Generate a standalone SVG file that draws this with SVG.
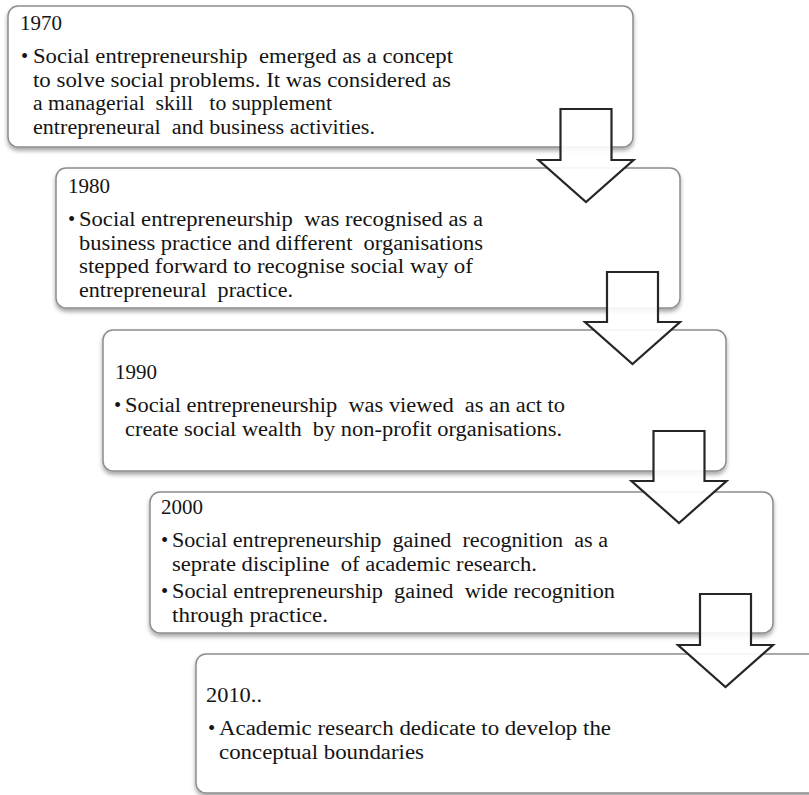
<svg xmlns="http://www.w3.org/2000/svg" width="809" height="795" viewBox="0 0 809 795">
<defs>
<filter id="sh" x="-5%" y="-10%" width="110%" height="130%">
<feDropShadow dx="0" dy="3" stdDeviation="2" flood-color="#000" flood-opacity="0.35"/>
</filter>
</defs>
<style>
.box{fill:#fff;stroke:#8c8c8c;stroke-width:1.5;filter:url(#sh)}
.t{font-family:"Liberation Serif","Times New Roman",serif;font-size:20.5px;fill:#141414;white-space:pre}
.arr{fill:#fff;fill-opacity:0.9;stroke:#262626;stroke-width:2.2;stroke-linejoin:miter}
</style>
<rect width="809" height="795" fill="#fff"/>
<g id="node-1970">
<rect class="box" x="8" y="6" width="625" height="141" rx="10"/>
<text class="t" x="20" y="30" textLength="42" lengthAdjust="spacingAndGlyphs">1970</text>
<text class="t" x="21" y="63">•</text>
<text class="t" x="33" y="63" textLength="420" lengthAdjust="spacingAndGlyphs">Social entrepreneurship  emerged as a concept</text>
<text class="t" x="33" y="86.5" textLength="418" lengthAdjust="spacingAndGlyphs">to solve social problems. It was considered as</text>
<text class="t" x="33" y="110" textLength="299" lengthAdjust="spacingAndGlyphs">a managerial  skill   to supplement</text>
<text class="t" x="33" y="133.5" textLength="342" lengthAdjust="spacingAndGlyphs">entrepreneural  and business activities.</text>
</g>
<g id="node-1980">
<rect class="box" x="56" y="168" width="624" height="140" rx="10"/>
<text class="t" x="68" y="193" textLength="42" lengthAdjust="spacingAndGlyphs">1980</text>
<text class="t" x="68" y="226">•</text>
<text class="t" x="79" y="226" textLength="404" lengthAdjust="spacingAndGlyphs">Social entrepreneurship  was recognised as a</text>
<text class="t" x="79" y="249.5" textLength="404" lengthAdjust="spacingAndGlyphs">business practice and different  organisations</text>
<text class="t" x="79" y="273" textLength="394" lengthAdjust="spacingAndGlyphs">stepped forward to recognise social way of</text>
<text class="t" x="79" y="296.5" textLength="214" lengthAdjust="spacingAndGlyphs">entrepreneural  practice.</text>
</g>
<g id="node-1990">
<rect class="box" x="103" y="330" width="623" height="141" rx="10"/>
<text class="t" x="115" y="379" textLength="42" lengthAdjust="spacingAndGlyphs">1990</text>
<text class="t" x="114" y="412">•</text>
<text class="t" x="125" y="412" textLength="440" lengthAdjust="spacingAndGlyphs">Social entrepreneurship  was viewed  as an act to</text>
<text class="t" x="125" y="435.5" textLength="437" lengthAdjust="spacingAndGlyphs">create social wealth  by non-profit organisations.</text>
</g>
<g id="node-2000">
<rect class="box" x="150" y="492" width="623" height="141" rx="10"/>
<text class="t" x="161" y="514" textLength="42" lengthAdjust="spacingAndGlyphs">2000</text>
<text class="t" x="161" y="547">•</text>
<text class="t" x="172" y="547" textLength="436" lengthAdjust="spacingAndGlyphs">Social entrepreneurship  gained  recognition  as a</text>
<text class="t" x="172" y="570.5" textLength="365" lengthAdjust="spacingAndGlyphs">seprate discipline  of academic research.</text>
<text class="t" x="161" y="598">•</text>
<text class="t" x="172" y="598" textLength="443" lengthAdjust="spacingAndGlyphs">Social entrepreneurship  gained  wide recognition</text>
<text class="t" x="172" y="621.5" textLength="156" lengthAdjust="spacingAndGlyphs">through practice.</text>
</g>
<g id="node-2010">
<rect class="box" x="196" y="654" width="640" height="139" rx="10"/>
<text class="t" x="206" y="702" textLength="56" lengthAdjust="spacingAndGlyphs">2010..</text>
<text class="t" x="208" y="735">•</text>
<text class="t" x="219" y="735" textLength="392" lengthAdjust="spacingAndGlyphs">Academic research dedicate to develop the</text>
<text class="t" x="219" y="758.5" textLength="205" lengthAdjust="spacingAndGlyphs">conceptual boundaries</text>
</g>
<g id="connectors">
<polygon class="arr" points="560.5,109 611.5,109 611.5,160 633.5,160 586,202 538.5,160 560.5,160"/>
<polygon class="arr" points="607,272 658,272 658,322 680,322 632.5,364 585,322 607,322"/>
<polygon class="arr" points="653.5,431 704.5,431 704.5,481 726.5,481 679,523 631.5,481 653.5,481"/>
<polygon class="arr" points="700,594 751,594 751,645 773,645 725.5,687 678,645 700,645"/>
</g>
</svg>
